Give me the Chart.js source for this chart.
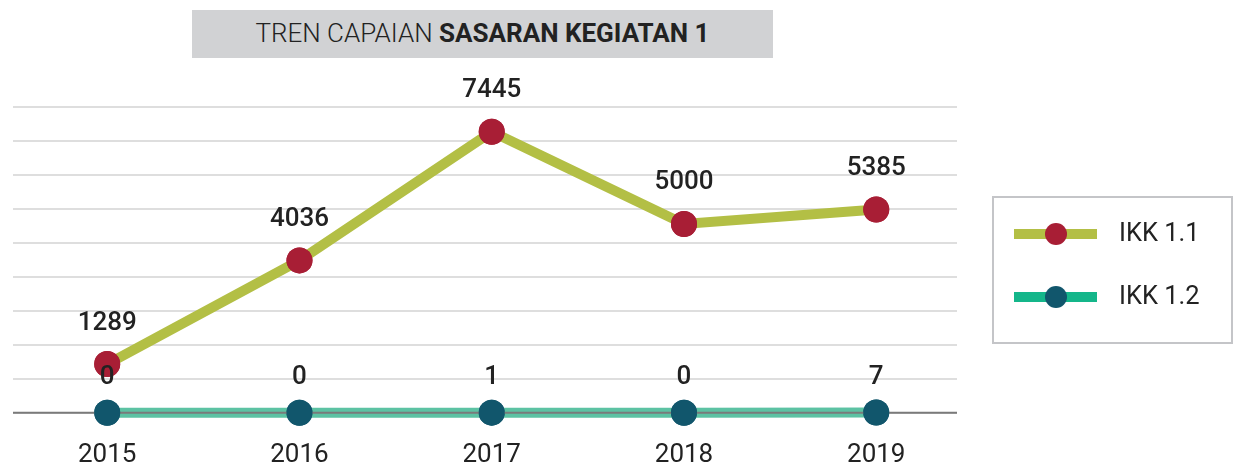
<!DOCTYPE html>
<html>
<head>
<meta charset="utf-8">
<script src="https://cdn.jsdelivr.net/npm/chart.js@4"></script>
<style>
  html, body { margin: 0; padding: 0; background: #fff; overflow: hidden; }
  #wrap { position: relative; width: 1238px; height: 464px; }
  #title {
    position: absolute; left: 192px; top: 10px; width: 581px; height: 48px;
    background: #d1d2d4; color: #222; font-family: Roboto, sans-serif;
    font-size: 26px; line-height: 46px; text-align: center;
  }
  #title .light { font-weight: 300; }
  #title b { font-weight: 700; }
  canvas { position: absolute; left: 0; top: 0; }
</style>
</head>
<body>
<div id="wrap">
  <canvas id="chart" width="1238" height="464"></canvas>
  <div id="title"><span class="light">TREN CAPAIAN</span> <b>SASARAN KEGIATAN 1</b></div>
</div>
<script>
const years = [2015, 2016, 2017, 2018, 2019];
const ikk11 = [1289, 4036, 7445, 5000, 5385];
const ikk12 = [0, 0, 1, 0, 7];
const seriesNames = ['IKK 1.1', 'IKK 1.2'];

const FONT = 'Roboto, sans-serif';

// baseline over the lines, then points back on top, then value labels
const overlay = {
  id: 'overlay',
  afterDatasetsDraw(chart) {
    const ctx = chart.ctx;
    const { left, right } = chart.chartArea;
    const y0 = chart.scales.y.getPixelForValue(0);
    ctx.save();
    ctx.strokeStyle = '#7a7a7a';
    ctx.lineWidth = 2;
    ctx.beginPath();
    ctx.moveTo(left, y0);
    ctx.lineTo(right, y0);
    ctx.stroke();
    ctx.restore();

    chart.data.datasets.forEach((ds, i) => {
      const meta = chart.getDatasetMeta(i);
      meta.data.forEach(p => p.draw(ctx, chart.chartArea));
    });

    ctx.save();
    ctx.fillStyle = '#222';
    ctx.font = '500 26px ' + FONT;
    ctx.textAlign = 'center';
    ctx.textBaseline = 'middle';
    chart.data.datasets.forEach((ds, i) => {
      const meta = chart.getDatasetMeta(i);
      const off = i === 0 ? 41 : 35;
      meta.data.forEach((p, j) => {
        ctx.fillText(String(ds.data[j].y), p.x, p.y - off);
      });
    });
    ctx.restore();
  },
  afterDraw(chart) {
    const ctx = chart.ctx;
    ctx.save();
    ctx.strokeStyle = '#c4c5c8';
    ctx.lineWidth = 2;
    ctx.strokeRect(993, 197, 239, 146);
    chart.data.datasets.forEach((ds, i) => {
      const y = 234 + i * 63;
      ctx.strokeStyle = ds.legendColor;
      ctx.lineWidth = 10;
      ctx.beginPath();
      ctx.moveTo(1014, y);
      ctx.lineTo(1097, y);
      ctx.stroke();
      ctx.fillStyle = ds.pointBackgroundColor;
      ctx.beginPath();
      ctx.arc(1056, y, 11, 0, Math.PI * 2);
      ctx.fill();
      ctx.fillStyle = '#222';
      ctx.font = '400 25.5px ' + FONT;
      ctx.textBaseline = 'middle';
      ctx.textAlign = 'left';
      ctx.fillText(ds.label, 1119, y + 1);
    });
    ctx.restore();
  }
};

new Chart(document.getElementById('chart'), {
  type: 'line',
  data: {
    datasets: [
      {
        label: seriesNames[0],
        data: years.map((x, i) => ({ x, y: ikk11[i] })),
        borderColor: '#b3bf45',
        legendColor: '#b3bf45',
        borderWidth: 10,
        pointRadius: 13,
        pointBackgroundColor: '#a81e35',
        pointBorderWidth: 0,
        tension: 0,
        clip: false
      },
      {
        label: seriesNames[1],
        data: years.map((x, i) => ({ x, y: ikk12[i] })),
        borderColor: '#5cc2a3',
        legendColor: '#14b68a',
        borderWidth: 10,
        pointRadius: 13,
        pointBackgroundColor: '#11566c',
        pointBorderWidth: 0,
        tension: 0,
        clip: false
      }
    ]
  },
  options: {
    responsive: false,
    animation: false,
    layout: { padding: { left: 9, right: 281, top: 107, bottom: 0 } },
    plugins: {
      legend: { display: false },
      tooltip: { enabled: false }
    },
    scales: {
      x: {
        type: 'linear',
        min: 2014.51,
        max: 2019.42,
        afterBuildTicks: s => { s.ticks = years.map(v => ({ value: v })); },
        afterFit: s => { s.height = 51.3; },
        grid: { display: false, drawTicks: false },
        border: { display: false },
        ticks: {
          padding: 27,
          color: '#222',
          font: { family: FONT, size: 26 },
          callback: v => String(v)
        }
      },
      y: {
        min: 0,
        max: 8100,
        ticks: { display: false, stepSize: 900 },
        afterFit: s => { s.width = 0; },
        grid: { color: '#dedede', lineWidth: 2, drawTicks: false },
        border: { display: false }
      }
    }
  },
  plugins: [overlay]
});
</script>
</body>
</html>
